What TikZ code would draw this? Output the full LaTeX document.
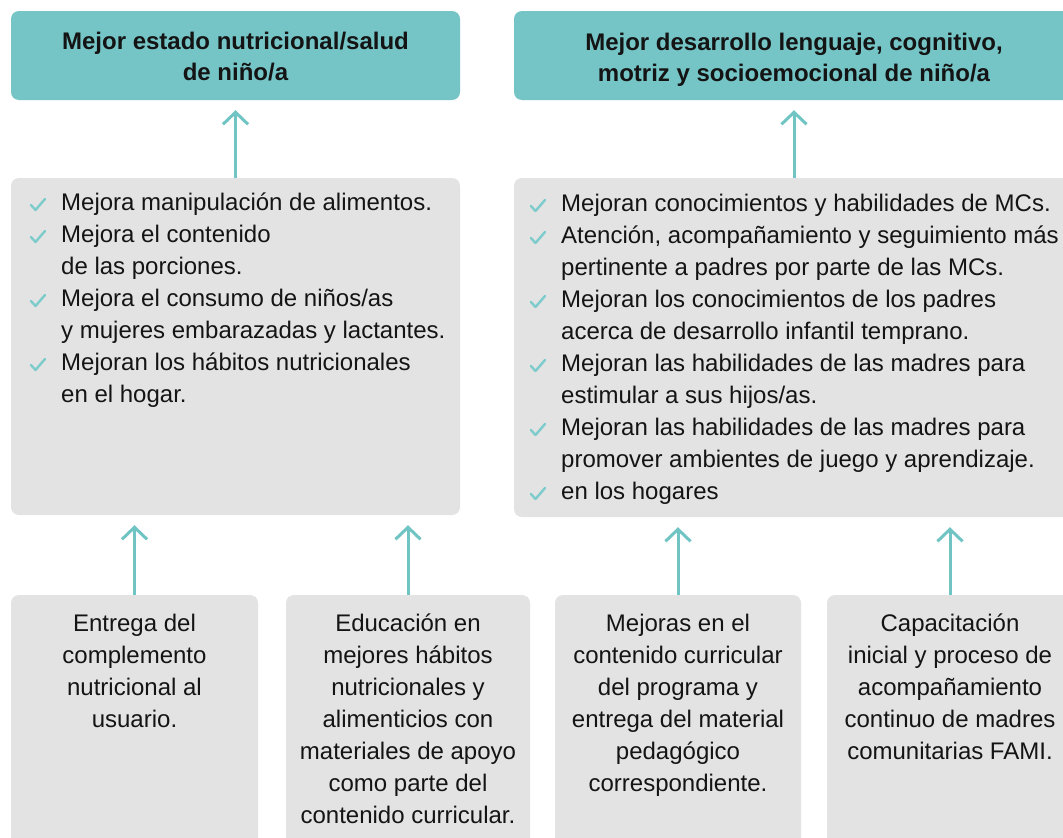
\documentclass[tikz,border=0pt]{standalone}
\usepackage{fontspec}
\setmainfont{Liberation Sans}
\usetikzlibrary{arrows.meta}
\definecolor{tealbox}{HTML}{75C5C7}
\definecolor{tealline}{HTML}{70C4C4}
\definecolor{checkc}{HTML}{7DCBCB}
\definecolor{graybox}{HTML}{E3E3E3}
\definecolor{txt}{HTML}{141414}
\newcommand\chk{\hspace*{37pt}}
\newcommand\ind{\hspace*{37pt}}
\tikzset{
  titlebox/.style={fill=tealbox, rounded corners=8pt, inner sep=0pt, draw=none},
  graybg/.style={fill=graybox, rounded corners=8pt, inner sep=0pt, draw=none},
  bodytext/.style={text=txt, inner sep=0pt, font=\fontsize{24}{32}\selectfont},
  titletext/.style={text=txt, inner sep=0pt, align=center, font=\bfseries\fontsize{24}{31}\selectfont},
  arr/.style={draw=tealline, line width=3pt, -{Straight Barb[length=12pt,width=25pt]}, shorten >=10pt},
  tick/.style={draw=checkc, line width=2.4pt, line join=round, line cap=round}
}
\begin{document}
\begin{tikzpicture}[x=1pt,y=-1pt]
\useasboundingbox (0,0) rectangle (1063,838);
\clip (0,0) rectangle (1063,838);
\fill[white] (0,0) rectangle (1063,838);
% top boxes
\node[titlebox, minimum width=449pt, minimum height=89pt] (t1) at (235.5,55.5) {};
\node[titlebox, minimum width=560pt, minimum height=89pt] (t2) at (794,55.5) {};
\node[titletext, anchor=north] (tt1) at (235.5,27.6) {\strut Mejor estado nutricional/salud\\de niño/a};
\node[titletext, anchor=north] (tt2) at (794,28.6) {\strut Mejor desarrollo lenguaje, cognitivo,\\motriz y socioemocional de niño/a};
% middle boxes
\node[graybg, minimum width=449pt, minimum height=337pt] (g1) at (235.5,346.5) {};
\node[graybg, minimum width=560pt, minimum height=339pt] (g2) at (794,347.5) {};
\node[bodytext, anchor=north west, align=left] (l1) at (24,187.6) {\strut\chk Mejora manipulación de alimentos.\\
\chk Mejora el contenido\\
\ind de las porciones.\\
\chk Mejora el consumo de niños/as\\
\ind y mujeres embarazadas y lactantes.\\
\chk Mejoran los hábitos nutricionales\\
\ind en el hogar.};
\node[bodytext, anchor=north west, align=left] (l2) at (524,188.6) {\strut\chk Mejoran conocimientos y habilidades de MCs.\\
\chk Atención, acompañamiento y seguimiento más\\
\ind pertinente a padres por parte de las MCs.\\
\chk Mejoran los conocimientos de los padres\\
\ind acerca de desarrollo infantil temprano.\\
\chk Mejoran las habilidades de las madres para\\
\ind estimular a sus hijos/as.\\
\chk Mejoran las habilidades de las madres para\\
\ind promover ambientes de juego y aprendizaje.\\
\chk en los hogares};
% check marks
\foreach \k in {0,1,3,5}
  \draw[tick] (31,{210+32*\k-5}) -- (35.5,{210+32*\k}) -- (45,{210+32*\k-11});
\foreach \k in {0,1,3,5,7,9}
  \draw[tick] (531,{211+32*\k-5}) -- (535.5,{211+32*\k}) -- (545,{211+32*\k-11});
% bottom boxes
\node[graybg, minimum width=247pt, minimum height=265pt] (b1) at (134.5,727.5) {};
\node[graybg, minimum width=244pt, minimum height=265pt] (b2) at (408,727.5) {};
\node[graybg, minimum width=246pt, minimum height=265pt] (b3) at (678,727.5) {};
\node[graybg, minimum width=246pt, minimum height=265pt] (b4) at (950,727.5) {};
\node[bodytext, anchor=north, align=center] (bt1) at (134.5,608.6) {\strut Entrega del\\complemento\\nutricional al\\usuario.};
\node[bodytext, anchor=north, align=center] (bt2) at (408,608.6) {\strut Educación en\\mejores hábitos\\nutricionales y\\alimenticios con\\materiales de apoyo\\como parte del\\contenido curricular.};
\node[bodytext, anchor=north, align=center] (bt3) at (678,608.6) {\strut Mejoras en el\\contenido curricular\\del programa y\\entrega del material\\pedagógico\\correspondiente.};
\node[bodytext, anchor=north, align=center] (bt4) at (950,608.6) {\strut Capacitación\\inicial y proceso de\\acompañamiento\\continuo de madres\\comunitarias FAMI.};
% arrows
\draw[arr] (g1.north) -- (g1.north |- t1.south);
\draw[arr] (g2.north) -- (g2.north |- t2.south);
\draw[arr] (b1.north) -- (b1.north |- g1.south);
\draw[arr] (b2.north) -- (b2.north |- g1.south);
\draw[arr] (b3.north) -- (b3.north |- g2.south);
\draw[arr] (b4.north) -- (b4.north |- g2.south);
\end{tikzpicture}
\end{document}
